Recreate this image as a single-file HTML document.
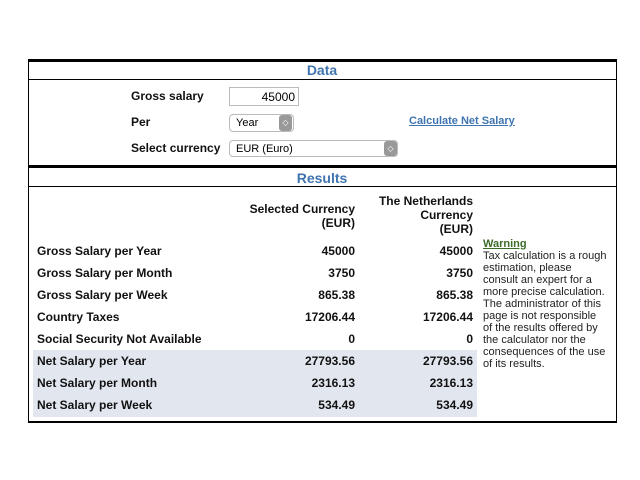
<!DOCTYPE html>
<html><head><style>
body{margin:0;width:640px;height:480px;background:#fff;font-family:"Liberation Sans",Arial,sans-serif;position:relative;overflow:hidden}
div,span{position:absolute}
.b{font-weight:bold;font-size:12px;color:#111;white-space:nowrap;line-height:14px}
.r{text-align:right}
.h{font-weight:bold;font-size:14px;color:#3f74b0;width:588px;left:28px;text-align:center;line-height:18px}
.w{font-size:11px;line-height:12px;color:#222;white-space:nowrap;left:483px}
</style></head><body>
<div style="left:28px;top:59px;width:587px;height:359px;border:1px solid #000;border-top:3px solid #000;border-bottom:2px solid #000"></div>
<div class="h" style="top:61px">Data</div>
<div style="left:28px;top:79px;width:589px;height:1px;background:#000"></div>
<div class="b" style="left:131px;top:89px">Gross salary</div>
<div style="left:229px;top:87px;border:1px solid #bbb;font-size:12px;line-height:18px;text-align:right;box-sizing:border-box;padding-right:3px;width:70px;height:19px">45000</div>
<div class="b" style="left:131px;top:115px">Per</div>
<div style="left:229px;top:114px;border:1px solid #bbb;border-radius:4px;font-size:11px;line-height:17px;padding-left:6px;box-sizing:border-box;width:65px;height:18px">Year</div>
<div style="left:279px;top:115px;width:13px;height:16px;background:#999;border-radius:3px;color:#fff;font-size:8px;text-align:center;line-height:16px">◇</div>
<div class="b" style="left:131px;top:141px">Select currency</div>
<div style="left:229px;top:140px;width:169px;height:17px;border:1px solid #bbb;border-radius:4px;font-size:11px;line-height:16px;padding-left:6px;box-sizing:border-box">EUR (Euro)</div>
<div style="left:384px;top:141px;width:13px;height:15px;background:#999;border-radius:3px;color:#fff;font-size:8px;text-align:center;line-height:15px">◇</div>
<div style="left:409px;top:115px;font-weight:bold;font-size:11px;color:#3f74b0;text-decoration:underline;white-space:nowrap">Calculate Net Salary</div>
<div style="left:28px;top:165px;width:589px;height:3px;background:#000"></div>
<div class="h" style="top:169px">Results</div>
<div style="left:28px;top:186px;width:589px;height:1px;background:#000"></div>
<div style="left:33px;top:350px;width:444px;height:67px;background:#e2e7ef"></div>
<div class="b r" style="left:200px;width:155px;top:202px">Selected Currency<br>(EUR)</div>
<div class="b r" style="left:330px;width:143px;top:194px">The Netherlands<br>Currency<br>(EUR)</div>
<div class="b" style="left:37px;top:244px">Gross Salary per Year</div>
<div class="b" style="left:37px;top:266px">Gross Salary per Month</div>
<div class="b" style="left:37px;top:288px">Gross Salary per Week</div>
<div class="b" style="left:37px;top:310px">Country Taxes</div>
<div class="b" style="left:37px;top:332px">Social Security Not Available</div>
<div class="b" style="left:37px;top:354px">Net Salary per Year</div>
<div class="b" style="left:37px;top:376px">Net Salary per Month</div>
<div class="b" style="left:37px;top:398px">Net Salary per Week</div>
<div class="b r" style="left:255px;width:100px;top:240px;line-height:22px">45000<br>3750<br>865.38<br>17206.44<br>0<br>27793.56<br>2316.13<br>534.49</div>
<div class="b r" style="left:373px;width:100px;top:240px;line-height:22px">45000<br>3750<br>865.38<br>17206.44<br>0<br>27793.56<br>2316.13<br>534.49</div>
<div class="w" style="top:238px;font-weight:bold;color:#3d6b2a;text-decoration:underline">Warning</div>
<div class="w" style="top:250px">Tax calculation is a rough<br>estimation, please<br>consult an expert for a<br>more precise calculation.<br>The administrator of this<br>page is not responsible<br>of the results offered by<br>the calculator nor the<br>consequences of the use<br>of its results.</div>
</body></html>
